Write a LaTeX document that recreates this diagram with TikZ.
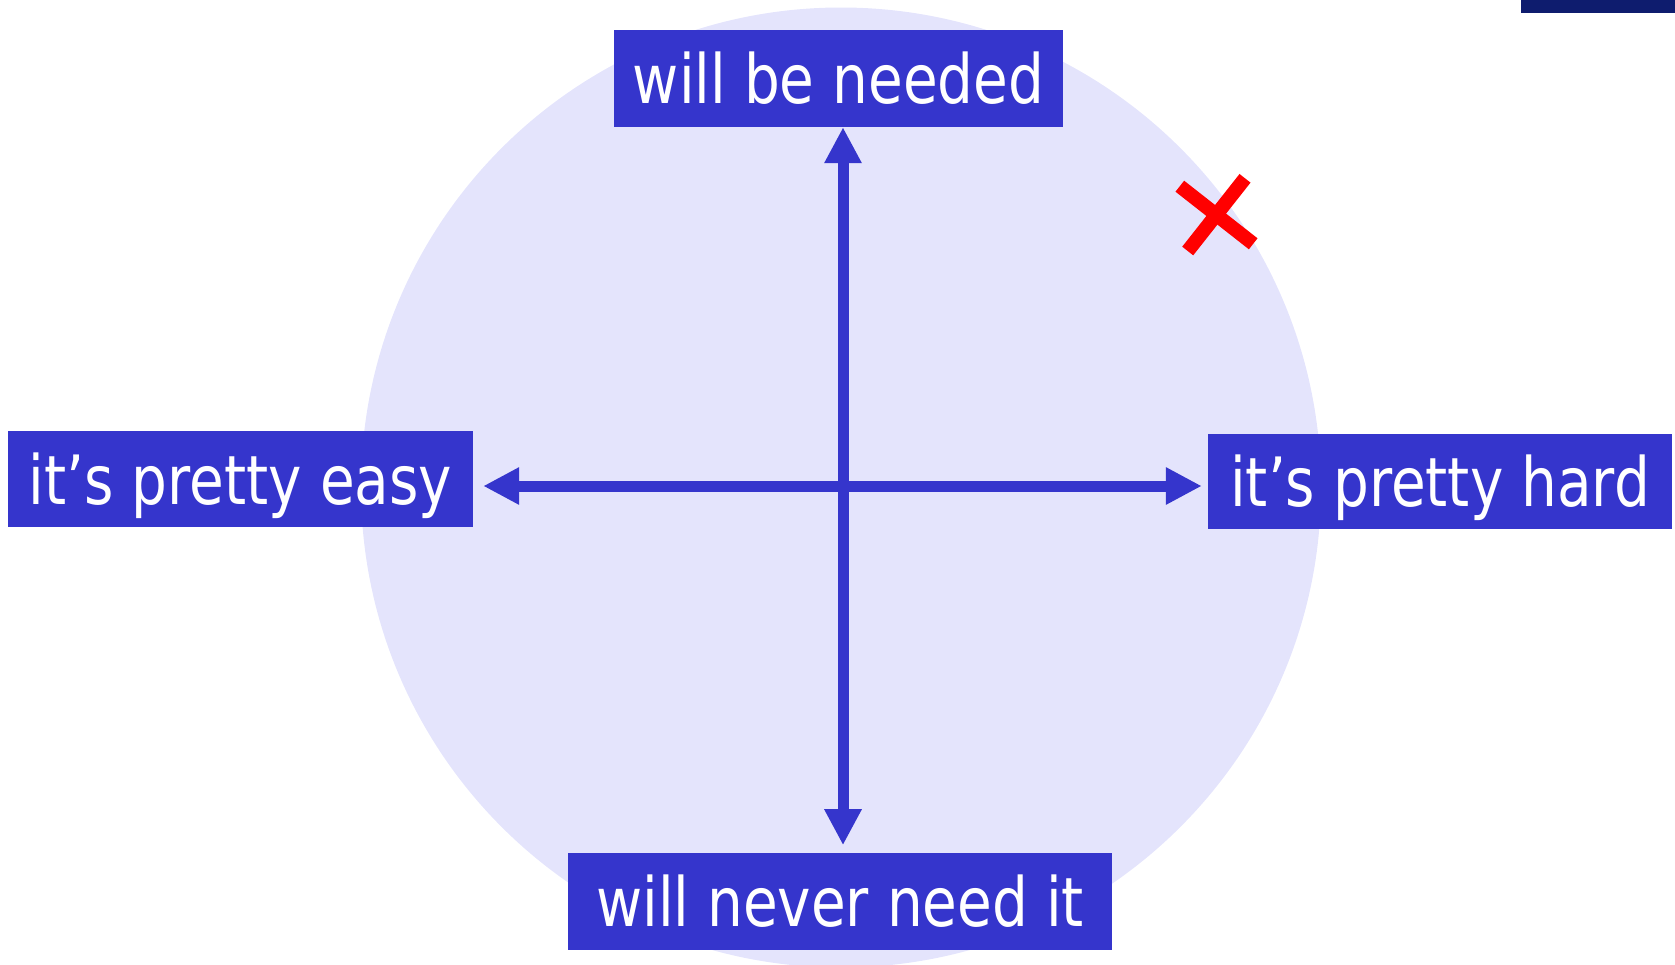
\documentclass[tikz,border=0pt]{standalone}
\usepackage{fontspec}
\newfontfamily\tahomalike[FakeStretch=0.83]{DejaVu Sans}
\usetikzlibrary{arrows.meta}
\definecolor{boxblue}{HTML}{3535CC}
\definecolor{circfill}{HTML}{E4E4FC}
\definecolor{navy}{HTML}{0E1C6E}
\definecolor{xred}{HTML}{FF0000}
\tikzset{
  label box/.style={fill=boxblue, text=white, inner sep=0pt, font=\tahomalike\fontsize{68pt}{80pt}\selectfont,
    text height=50pt, text depth=0pt, align=center},
  dblarrow/.style={draw=boxblue, line width=11pt, {Triangle[length=36pt,width=35pt]}-{Triangle[length=36pt,width=35pt]}},
  cross/.style={draw=xred, line width=14pt}
}
\begin{document}
\begin{tikzpicture}[x=1pt,y=-1pt]
\useasboundingbox (0,0) rectangle (1675,964);
\clip (0,0) rectangle (1675,964);
\fill[circfill] (841,487.5) circle (480);
\fill[navy] (1521,0) rectangle (1675,13);
\node[label box, minimum width=449pt, minimum height=97pt] (top) at (838.5,78.5) {will be needed};
\node[label box, minimum width=465pt, minimum height=96pt] (left) at (240.5,479) {it’s pretty easy};
\node[label box, minimum width=464pt, minimum height=95pt] (right) at (1440,481.5) {it’s pretty hard};
\node[label box, minimum width=544pt, minimum height=97pt] (bottom) at (840,901.5) {will never need it};
\coordinate (c) at (843,486);
\draw[dblarrow, shorten >=7.6pt] (top.south -| c) -- (bottom.north -| c);
\draw[dblarrow, shorten <=10pt, shorten >=6pt] (left.east |- c) -- (right.west |- c);
\draw[cross] (1179.8,186.2) -- (1253.2,243.8);
\draw[cross] (1187.7,251) -- (1245,178.3);
\end{tikzpicture}
\end{document}
